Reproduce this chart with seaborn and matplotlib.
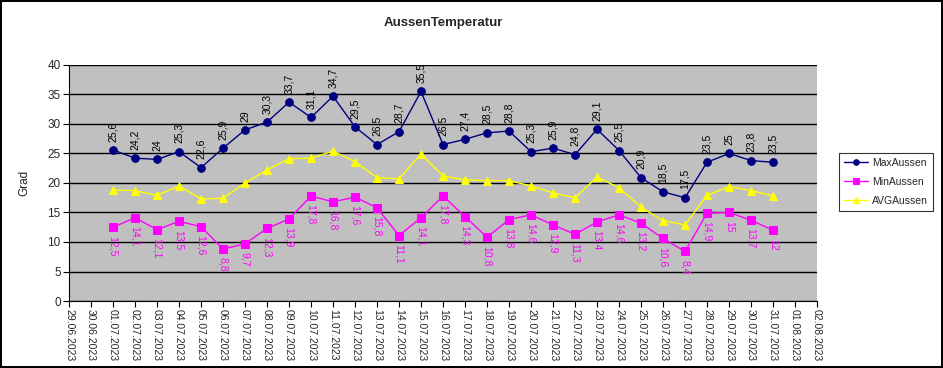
import pandas as pd
import numpy as np
import matplotlib
matplotlib.use("Agg")
import matplotlib.pyplot as plt
import matplotlib.dates as mdates
import seaborn as sns

# Daily values, July 2023
dates = pd.date_range("2023-07-01", "2023-07-31", freq="D")
max_aussen = [25.6, 24.2, 24, 25.3, 22.6, 25.9, 29, 30.3, 33.7, 31.1, 34.7, 29.5, 26.5, 28.7, 35.5, 26.5,
              27.4, 28.5, 28.8, 25.3, 25.9, 24.8, 29.1, 25.5, 20.9, 18.5, 17.5, 23.5, 25, 23.8, 23.5]
min_aussen = [12.5, 14.1, 12.1, 13.5, 12.6, 8.8, 9.7, 12.3, 13.9, 17.8, 16.8, 17.6, 15.8, 11.1, 14.1, 17.8,
              14.3, 10.8, 13.8, 14.6, 12.9, 11.3, 13.4, 14.6, 13.2, 10.6, 8.4, 14.9, 15, 13.7, 12]
avg_aussen = [18.8, 18.7, 17.9, 19.5, 17.3, 17.4, 20.0, 22.2, 24.1, 24.2, 25.4, 23.6, 20.9, 20.7, 24.9, 21.2,
              20.5, 20.4, 20.4, 19.5, 18.3, 17.5, 21.0, 19.2, 15.9, 13.6, 12.9, 17.9, 19.4, 18.7, 17.8]
tick_dates = pd.date_range("2023-06-29", "2023-08-02", freq="D")

df = pd.DataFrame({"Datum": dates, "MaxAussen": max_aussen, "MinAussen": min_aussen, "AVGAussen": avg_aussen})

sns.set_style("white")
plt.rcParams['font.family'] = ['Liberation Sans', 'DejaVu Sans']

fig = plt.figure(figsize=(9.43, 3.68), dpi=100)
fig.patch.set_edgecolor("black")
fig.patch.set_linewidth(1.5)
ax = fig.add_axes([0.0732, 0.182, 0.7932, 0.6416])
ax.set_facecolor("#C0C0C0")

series = [("MaxAussen", "#000080", "o", 5.5),
          ("MinAussen", "#FF00FF", "s", 6),
          ("AVGAussen", "#FFFF00", "^", 6)]
for name, color, marker, ms in series:
    sns.lineplot(data=df, x="Datum", y=name, ax=ax, color=color, marker=marker,
                 markersize=ms, markeredgecolor=color, linewidth=1, label=name, zorder=3)

# data labels
for d, v in zip(dates, max_aussen):
    ax.annotate(f"{v:g}".replace(".", ","), (d, v), xytext=(0, 6), textcoords="offset points",
                rotation=90, ha="center", va="bottom", fontsize=7.5, color="black")
for d, v in zip(dates, min_aussen):
    ax.annotate(f"{v:g}".replace(".", ","), (d, v), xytext=(0, -6), textcoords="offset points",
                rotation=270, ha="center", va="top", fontsize=7.5, color="#FF00FF")

ax.set_ylim(0, 40)
ax.set_yticks(range(0, 41, 5))
ax.set_xlim(tick_dates[0], tick_dates[-1])
ax.set_xticks(tick_dates)
ax.xaxis.set_major_formatter(mdates.DateFormatter("%d.%m.%Y"))
plt.setp(ax.get_xticklabels(), rotation=270, fontsize=7.5)
plt.setp(ax.get_yticklabels(), fontsize=8.5)
ax.tick_params(axis="both", direction="out", length=4, width=0.8, color="black", pad=2,
               bottom=True, left=True)
ax.grid(axis="y", color="black", linewidth=1)
ax.set_axisbelow(True)
for side in ["top", "right"]:
    ax.spines[side].set_visible(False)
for side in ["left", "bottom"]:
    ax.spines[side].set_color("black")
    ax.spines[side].set_linewidth(0.8)

ax.set_xlabel("")
ax.set_ylabel("Grad", fontsize=8.5, labelpad=12)
ax.set_title("AussenTemperatur", fontsize=9.5, fontweight="bold", pad=28)

leg = ax.legend(loc="center left", bbox_to_anchor=(1.029, 0.505), frameon=True, fancybox=False,
                edgecolor="black", fontsize=7.5, handlelength=2.3, handletextpad=0.4,
                borderpad=0.5, borderaxespad=0, labelspacing=0.85)
leg.get_frame().set_linewidth(0.8)
for h in leg.legend_handles:
    h.set_markersize(4)

fig.savefig("out.png", dpi=100)
